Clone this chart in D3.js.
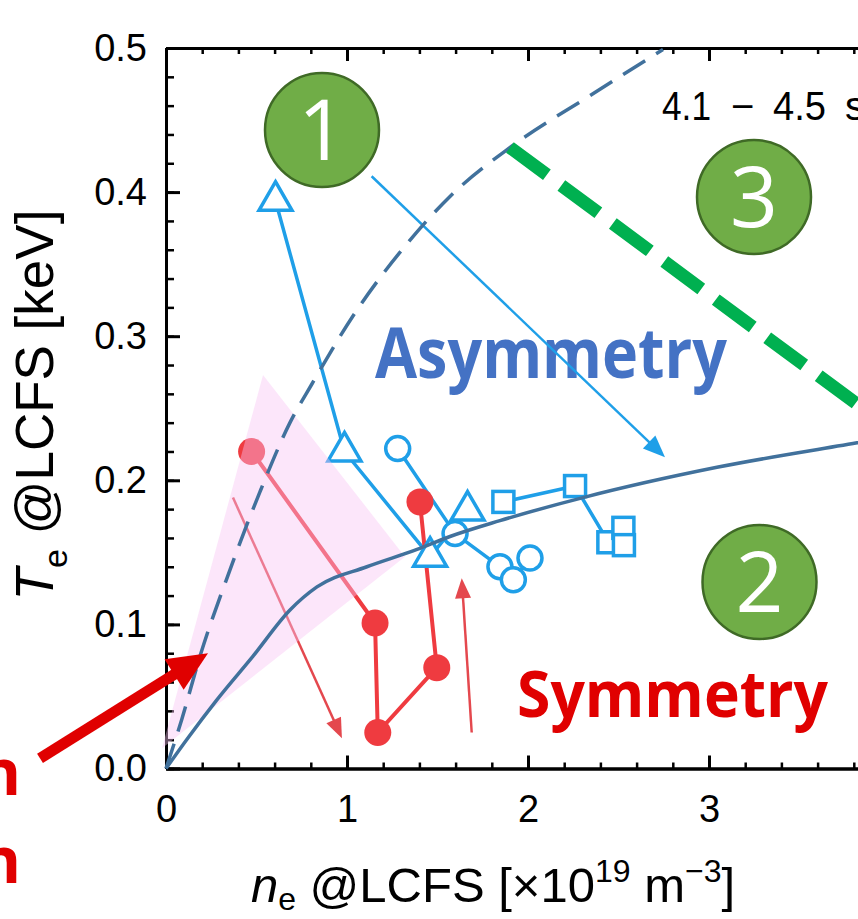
<!DOCTYPE html>
<html>
<head>
<meta charset="utf-8">
<script src="https://cdn.jsdelivr.net/npm/d3@7"></script>
<style>
  html, body { margin: 0; padding: 0; background: #fff; }
  svg { display: block; }
</style>
</head>
<body>
<svg id="chart" width="858" height="919"></svg>
<script>
// n_e @LCFS [1e19 m^-3] vs T_e @LCFS [keV]
// Asymmetric discharges (open markers)
const blueTriangles = [[0.605, 0.394], [0.986, 0.220], [1.459, 0.147], [1.666, 0.179]];
const blueCircles   = [[1.280, 0.222], [1.597, 0.163], [1.845, 0.140], [1.919, 0.131], [2.011, 0.146]];
const blueSquares   = [[1.864, 0.185], [2.260, 0.196], [2.444, 0.157], [2.527, 0.167], [2.530, 0.155]];
// Symmetric discharge (filled markers)
const redCircles    = [[0.473, 0.220], [1.155, 0.101], [1.170, 0.025], [1.496, 0.070], [1.403, 0.185]];

// Boundary curves
const solidBoundary  = [[0, 0], [0.114, 0.020], [0.280, 0.0475], [0.481, 0.078], [0.685, 0.110], [0.834, 0.126],
                        [1.110, 0.140], [1.387, 0.152], [1.569, 0.161], [1.845, 0.172], [2.304, 0.188],
                        [3.044, 0.209], [3.818, 0.226], [4.0, 0.230]];
const dashedBoundary = [[0, 0], [0.087, 0.034], [0.188, 0.078], [0.354, 0.138], [0.519, 0.192], [0.685, 0.240],
                        [0.807, 0.267], [1.033, 0.314], [1.337, 0.365], [1.569, 0.397], [1.901, 0.431],
                        [2.343, 0.467], [2.746, 0.499]];
const greenBoundary  = [[1.90, 0.431], [4.0, 0.236]];
const pinkRegion     = [[-0.022, 0.014], [0.536, 0.273], [1.320, 0.147]];

// Trend arrows (start, end)
const redArrowDown = [[0.370, 0.188], [0.972, 0.021]];
const redArrowUp   = [[1.689, 0.025], [1.634, 0.132]];
const blueArrow    = [[1.136, 0.411], [2.757, 0.216]];
const regionArrow  = [[-0.696, 0.007], [0.232, 0.080]];

// Axes
const xDomain = [0, 4];
const yDomain = [0, 0.5];
const xTicks = [0, 1, 2, 3];
const xMinorTicks = d3.range(0, 4.001, 0.2);
const yTicks = [0, 0.1, 0.2, 0.3, 0.4, 0.5];
const yMinorTicks = d3.range(0, 0.5001, 0.02);

const svg = d3.select("#chart");
svg.append("rect").attr("width", 858).attr("height", 919).attr("fill", "#fff");

const x = d3.scaleLinear().domain(xDomain).range([166, 890]);
const y = d3.scaleLinear().domain(yDomain).range([768.5, 48]);

const tickFont = "'Liberation Sans', Arial, sans-serif";
const BLUE = "#1f9fe8", RED = "#ef3b40", CURVE = "#41719c";

// ---- frame and ticks ----
const axes = svg.append("g");
function styleAxis(g, w) {
  g.attr("font-family", tickFont).attr("font-size", 38);
  g.selectAll(".domain").attr("stroke", "#000").attr("stroke-width", 3);
  g.selectAll(".tick line").attr("stroke", "#000").attr("stroke-width", w);
  g.selectAll(".tick text").attr("fill", "#000");
}
axes.append("g").attr("transform", `translate(0,${y(0)})`)
  .call(d3.axisBottom(x).tickValues(xMinorTicks).tickSize(-6).tickSizeOuter(0).tickFormat(""))
  .call(g => styleAxis(g, 2.5));
axes.append("g").attr("transform", `translate(0,${y(0)})`)
  .call(d3.axisBottom(x).tickValues(xTicks).tickSize(-13).tickSizeOuter(0).tickPadding(27).tickFormat(d3.format("d")))
  .call(g => styleAxis(g, 3));
axes.append("g").attr("transform", `translate(0,${y(0.5)})`)
  .call(d3.axisTop(x).tickValues(xMinorTicks).tickSize(-6).tickSizeOuter(0).tickFormat(""))
  .call(g => styleAxis(g, 2.5));
axes.append("g").attr("transform", `translate(0,${y(0.5)})`)
  .call(d3.axisTop(x).tickValues(xTicks).tickSize(-13).tickSizeOuter(0).tickFormat(""))
  .call(g => styleAxis(g, 3));
axes.append("g").attr("transform", `translate(${x(0)},0)`)
  .call(d3.axisLeft(y).tickValues(yMinorTicks).tickSize(-8).tickSizeOuter(0).tickFormat(""))
  .call(g => styleAxis(g, 2.5));
axes.append("g").attr("transform", `translate(${x(0)},0)`)
  .call(d3.axisLeft(y).tickValues(yTicks).tickSize(-14).tickSizeOuter(0).tickPadding(19).tickFormat(d3.format(".1f")))
  .call(g => styleAxis(g, 3));

// ---- axis titles ----
const xt = svg.append("text").attr("x", 493).attr("y", 902).attr("text-anchor", "middle")
  .attr("font-family", tickFont).attr("font-size", 49).attr("fill", "#000");
xt.append("tspan").attr("font-style", "italic").text("n");
xt.append("tspan").attr("font-size", 32).attr("dy", 8).text("e");
xt.append("tspan").attr("dy", -8).text(" @LCFS [×10");
xt.append("tspan").attr("font-size", 32).attr("dy", -20).text("19");
xt.append("tspan").attr("dy", 20).text(" m");
xt.append("tspan").attr("font-size", 32).attr("dy", -20).text("−3");
xt.append("tspan").attr("dy", 20).text("]");

const yt = svg.append("text").attr("transform", "translate(53,405) rotate(-90)").attr("text-anchor", "middle")
  .attr("font-family", tickFont).attr("font-size", 53).attr("fill", "#000");
yt.append("tspan").attr("font-style", "italic").text("T");
yt.append("tspan").attr("font-size", 34).attr("dy", 14).text("e");
yt.append("tspan").attr("dy", -14).text(" @LCFS [keV]");

// ---- labels ----
const period = svg.append("text").attr("y", 120).attr("font-family", tickFont).attr("font-size", 40).attr("fill", "#000");
period.append("tspan").attr("x", 662).attr("textLength", 49).attr("lengthAdjust", "spacingAndGlyphs").text("4.1");
period.append("tspan").attr("x", 731).text("−");
period.append("tspan").attr("x", 773).attr("textLength", 53).attr("lengthAdjust", "spacingAndGlyphs").text("4.5");
period.append("tspan").attr("x", 845).text("s");

svg.append("text").attr("x", 375).attr("y", 378).attr("font-family", "'Open Sans', sans-serif")
  .attr("font-weight", 700).attr("font-size", 70).attr("fill", "#4472c4")
  .attr("textLength", 352).attr("lengthAdjust", "spacingAndGlyphs").text("Asymmetry");
svg.append("text").attr("x", 517).attr("y", 717).attr("font-family", "'Open Sans', sans-serif")
  .attr("font-weight", 700).attr("font-size", 65).attr("fill", "#e00000")
  .attr("textLength", 311).attr("lengthAdjust", "spacingAndGlyphs").text("Symmetry");

// ---- helpers ----
const line = d3.line().x(d => x(d[0])).y(d => y(d[1]));
function arrow(g, pts, color, width, headLen, headHalf) {
  const p0 = [x(pts[0][0]), y(pts[0][1])], p1 = [x(pts[1][0]), y(pts[1][1])];
  const dx = p1[0] - p0[0], dy = p1[1] - p0[1], L = Math.hypot(dx, dy);
  const ux = dx / L, uy = dy / L;
  const bx = p1[0] - ux * headLen * 0.9, by = p1[1] - uy * headLen * 0.9;
  g.append("line").attr("x1", p0[0]).attr("y1", p0[1]).attr("x2", bx).attr("y2", by)
    .attr("stroke", color).attr("stroke-width", width);
  const hb = [p1[0] - ux * headLen, p1[1] - uy * headLen];
  g.append("polygon")
    .attr("points", [[p1[0], p1[1]], [hb[0] - uy * headHalf, hb[1] + ux * headHalf], [hb[0] + uy * headHalf, hb[1] - ux * headHalf]].join(" "))
    .attr("fill", color);
}

// ---- data ----
const data = svg.append("g");
arrow(data, redArrowDown, "#e4484e", 2.5, 20, 8);
arrow(data, redArrowUp, "#e4484e", 2.5, 20, 8);
arrow(data, blueArrow, BLUE, 2.5, 22, 9);

[blueTriangles, blueCircles, blueSquares].forEach(s => {
  data.append("path").attr("d", line(s)).attr("fill", "none").attr("stroke", BLUE).attr("stroke-width", 3.5);
});
data.append("path").attr("d", line(redCircles)).attr("fill", "none").attr("stroke", RED).attr("stroke-width", 4);

const tri = d3.symbol(d3.symbolTriangle, 470);
data.selectAll("path.tri").data(blueTriangles).join("path").attr("class", "tri")
  .attr("d", tri).attr("transform", d => `translate(${x(d[0])},${y(d[1])})`)
  .attr("fill", "#fff").attr("stroke", BLUE).attr("stroke-width", 3.5);
data.selectAll("circle.bc").data(blueCircles).join("circle").attr("class", "bc")
  .attr("cx", d => x(d[0])).attr("cy", d => y(d[1])).attr("r", 12)
  .attr("fill", "#fff").attr("stroke", BLUE).attr("stroke-width", 3.5);
data.selectAll("rect.bs").data(blueSquares).join("rect").attr("class", "bs")
  .attr("x", d => x(d[0]) - 10.5).attr("y", d => y(d[1]) - 10.5).attr("width", 21).attr("height", 21)
  .attr("fill", "#fff").attr("stroke", BLUE).attr("stroke-width", 3.5);
data.selectAll("circle.rc").data(redCircles).join("circle").attr("class", "rc")
  .attr("cx", d => x(d[0])).attr("cy", d => y(d[1])).attr("r", 13.5).attr("fill", RED);

// shaded transition region
svg.append("polygon").attr("points", pinkRegion.map(d => [x(d[0]), y(d[1])]).join(" "))
  .attr("fill", "#f7c4f2").attr("fill-opacity", 0.42);

// boundaries
const curve = d3.line().x(d => x(d[0])).y(d => y(d[1])).curve(d3.curveMonotoneX);
svg.append("path").attr("d", curve(solidBoundary)).attr("fill", "none").attr("stroke", CURVE).attr("stroke-width", 3.5);
svg.append("path").attr("d", curve(dashedBoundary)).attr("fill", "none").attr("stroke", CURVE)
  .attr("stroke-width", 3.5).attr("stroke-dasharray", "26,13");
svg.append("path").attr("d", line(greenBoundary)).attr("fill", "none").attr("stroke", "#00b050")
  .attr("stroke-width", 13).attr("stroke-dasharray", "46,18");

// region pointer
arrow(svg, regionArrow, "#e00000", 11, 40, 18);
svg.append("text").attr("x", 21).attr("y", 795).attr("text-anchor", "end")
  .attr("font-family", "'Open Sans', sans-serif").attr("font-weight", 700).attr("font-size", 64)
  .attr("fill", "#e00000").text("Transition");
svg.append("text").attr("x", 21).attr("y", 883).attr("text-anchor", "end")
  .attr("font-family", "'Open Sans', sans-serif").attr("font-weight", 700).attr("font-size", 64)
  .attr("fill", "#e00000").text("region");

// regime badges
const badges = [{label: "1", cx: 322, cy: 130}, {label: "3", cx: 754, cy: 197}, {label: "2", cx: 759.5, cy: 582}];
const bg = svg.selectAll("g.badge").data(badges).join("g").attr("class", "badge")
  .attr("transform", d => `translate(${d.cx},${d.cy})`);
bg.append("circle").attr("r", 57).attr("fill", "#70ad47").attr("stroke", "#3f6a26").attr("stroke-width", 2.5);
bg.append("text").attr("y", 30).attr("text-anchor", "middle").attr("font-family", "'Open Sans', sans-serif")
  .attr("font-size", 84).attr("fill", "#fff").text(d => d.label);
</script>
</body>
</html>
